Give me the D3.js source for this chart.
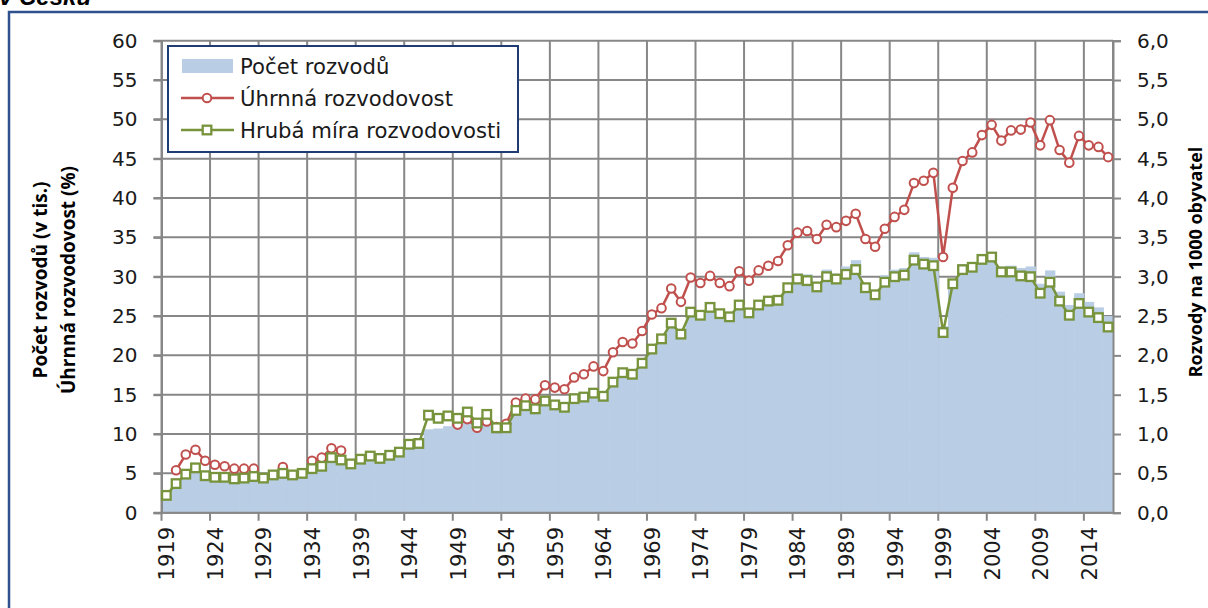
<!DOCTYPE html>
<html>
<head>
<meta charset="utf-8">
<script src="https://cdn.jsdelivr.net/npm/d3@7"></script>
<style>
  body { margin: 0; background: #fff; }
  svg { display: block; font-family: "DejaVu Sans", sans-serif; }
</style>
</head>
<body>
<div id="chart"></div>
<script>
// roky 1919-2016
const years = d3.range(1919, 2017);

// Počet rozvodů (v tis.)
const divorces = [
  2.3, 3.8, 5.0, 5.8, 4.7, 4.6, 4.6, 4.4, 4.5, 4.7,        // 1919-1928
  4.6, 4.9, 5.1, 4.9, 5.1, 5.8, 6.1, 7.2, 6.9, 6.3,        // 1929-1938
  6.9, 7.4, 7.1, 7.5, 7.9, 9.3, 9.5, 10.6, 10.7, 11.0,     // 1939-1948
  10.9, 11.4, 10.7, 11.3, 10.1, 10.2, 12.4, 13.0, 12.6, 13.7, // 1949-1958
  13.2, 12.9, 14.1, 14.3, 14.8, 14.5, 16.3, 17.5, 17.3, 18.7, // 1959-1968
  20.6, 21.9, 23.9, 22.5, 25.4, 25.0, 26.0, 25.2, 24.9, 26.4, // 1969-1978
  25.4, 26.5, 27.1, 27.2, 28.9, 30.4, 30.3, 29.3, 30.9, 30.4, // 1979-1988
  31.3, 32.1, 28.6, 28.3, 30.2, 30.9, 31.1, 33.1, 32.5, 32.4, // 1989-1998
  23.7, 29.7, 31.6, 31.8, 32.8, 33.1, 31.3, 31.4, 31.1, 31.3, // 1999-2008
  29.1, 30.8, 28.1, 26.4, 27.9, 26.8, 26.1, 25.0              // 2009-2016
];

// Úhrnná rozvodovost (%)
const totalRate = [
  null, 5.4, 7.4, 8.0, 6.6, 6.1, 5.9, 5.6, 5.6, 5.6,
  null, null, 5.8, null, null, 6.6, 7.0, 8.2, 7.9, null,
  null, null, null, null, null, null, null, null, null, null,
  11.2, 11.9, 10.8, 11.6, 10.9, 11.3, 14.0, 14.5, 14.4, 16.2,
  15.9, 15.7, 17.2, 17.6, 18.6, 18.0, 20.4, 21.7, 21.5, 23.1,
  25.2, 26.0, 28.5, 26.8, 29.9, 29.2, 30.1, 29.2, 28.8, 30.7,
  29.5, 30.8, 31.4, 32.0, 34.0, 35.6, 35.8, 34.8, 36.6, 36.3,
  37.1, 38.0, 34.8, 33.8, 36.1, 37.6, 38.5, 41.9, 42.2, 43.2,
  32.5, 41.3, 44.7, 45.8, 48.0, 49.3, 47.3, 48.6, 48.7, 49.6,
  46.7, 49.9, 46.1, 44.5, 47.9, 46.7, 46.5, 45.2
];

// Hrubá míra rozvodovosti (na 1000 obyvatel)
const crudeRate = [
  0.22, 0.37, 0.49, 0.57, 0.47, 0.45, 0.45, 0.43, 0.44, 0.46,
  0.44, 0.48, 0.50, 0.48, 0.50, 0.56, 0.59, 0.70, 0.67, 0.62,
  0.68, 0.72, 0.69, 0.73, 0.77, 0.87, 0.88, 1.24, 1.20, 1.23,
  1.20, 1.28, 1.14, 1.25, 1.08, 1.08, 1.30, 1.36, 1.32, 1.42,
  1.37, 1.34, 1.45, 1.47, 1.52, 1.48, 1.66, 1.78, 1.76, 1.90,
  2.08, 2.21, 2.41, 2.27, 2.55, 2.51, 2.61, 2.53, 2.49, 2.64,
  2.54, 2.64, 2.69, 2.70, 2.86, 2.97, 2.95, 2.87, 3.00, 2.97,
  3.03, 3.09, 2.86, 2.77, 2.93, 3.00, 3.02, 3.21, 3.16, 3.14,
  2.29, 2.91, 3.09, 3.12, 3.22, 3.25, 3.06, 3.06, 3.01, 3.00,
  2.79, 2.93, 2.69, 2.51, 2.66, 2.55, 2.48, 2.36
];

const leftTicks = d3.range(0, 61, 5);
const rightTicks = d3.range(0, 6.01, 0.5);
const yearLabels = years.filter(y => (y - 1919) % 5 === 0);

const seriesNames = ["Počet rozvodů", "Úhrnná rozvodovost", "Hrubá míra rozvodovosti"];

const width = 1208, height = 608;
const plot = { left: 161.5, right: 1113, top: 40.7, bottom: 512.7 };
const gridColor = "#878787";
const blue = "#b9cde5", red = "#c0504d", green = "#77933c";

const svg = d3.select("#chart").append("svg")
  .attr("width", width)
  .attr("height", height);

const x = d3.scaleBand().domain(years).range([plot.left, plot.right]).padding(0);
const y = d3.scaleLinear().domain([0, 60]).range([plot.bottom, plot.top]);
const y2 = d3.scaleLinear().domain([0, 6]).range([plot.bottom, plot.top]);
const comma = d3.formatLocale({ decimal: ",", thousands: " ", grouping: [3], currency: ["", ""] }).format(".1f");

// rámeček a nadpis
svg.append("rect")
  .attr("x", 9).attr("y", 12)
  .attr("width", 1300).attr("height", 700)
  .attr("fill", "none")
  .attr("stroke", "#2f528f")
  .attr("stroke-width", 2.5);

svg.append("text")
  .attr("x", -1).attr("y", 5)
  .attr("font-family", "Liberation Sans, Arial, sans-serif")
  .attr("font-weight", "bold")
  .attr("font-style", "italic")
  .attr("font-size", 24)
  .text("v Česku");

// mřížka
const grid = svg.append("g");
grid.selectAll("line.h")
  .data(leftTicks)
  .enter().append("line")
  .attr("x1", plot.left - 8).attr("x2", plot.right)
  .attr("y1", d => y(d)).attr("y2", d => y(d))
  .attr("stroke", gridColor).attr("stroke-width", 2);

grid.selectAll("line.v")
  .data(yearLabels.concat([2017]))
  .enter().append("line")
  .attr("x1", d => d === 2017 ? plot.right : x(d))
  .attr("x2", d => d === 2017 ? plot.right : x(d))
  .attr("y1", plot.top)
  .attr("y2", d => d === 2017 ? plot.bottom : plot.bottom + 8)
  .attr("stroke", gridColor).attr("stroke-width", 2);

// sloupce - počet rozvodů
svg.append("g").selectAll("rect")
  .data(years)
  .enter().append("rect")
  .attr("x", d => x(d))
  .attr("width", x.bandwidth() + 0.6)
  .attr("y", (d, i) => y(divorces[i]))
  .attr("height", (d, i) => plot.bottom - y(divorces[i]))
  .attr("fill", blue);

// osy
const leftAxis = svg.append("g")
  .attr("transform", `translate(${plot.left},0)`)
  .call(d3.axisLeft(y).tickValues(leftTicks).tickSize(8).tickPadding(16));
const rightAxis = svg.append("g")
  .attr("transform", `translate(${plot.right},0)`)
  .call(d3.axisRight(y2).tickValues(rightTicks).tickSize(8).tickPadding(16).tickFormat(comma));

[leftAxis, rightAxis].forEach(a => {
  a.select(".domain").attr("stroke", gridColor).attr("stroke-width", 2);
  a.selectAll(".tick line").attr("stroke", gridColor).attr("stroke-width", 2);
  a.selectAll(".tick text")
    .attr("font-family", "DejaVu Sans, sans-serif")
    .attr("font-size", 20)
    .attr("fill", "#1a1a1a");
});

svg.append("line")
  .attr("x1", plot.left).attr("x2", plot.right)
  .attr("y1", plot.bottom).attr("y2", plot.bottom)
  .attr("stroke", gridColor).attr("stroke-width", 2);

// popisky roků
svg.append("g").selectAll("text")
  .data(yearLabels)
  .enter().append("text")
  .attr("transform", d => `translate(${x(d) + x.bandwidth() / 2 + 1},527) rotate(-90)`)
  .attr("text-anchor", "end")
  .attr("dominant-baseline", "central")
  .attr("font-size", 21)
  .attr("fill", "#1a1a1a")
  .text(d => d);

// úhrnná rozvodovost
const cx = d => x(d) + x.bandwidth() / 2;
const redPts = years.map((yr, i) => ({ yr, v: totalRate[i] }));
svg.append("path")
  .datum(redPts)
  .attr("fill", "none")
  .attr("stroke", red)
  .attr("stroke-width", 2.5)
  .attr("d", d3.line().defined(d => d.v != null).x(d => cx(d.yr)).y(d => y(d.v)));
svg.append("g").selectAll("circle")
  .data(redPts.filter(d => d.v != null))
  .enter().append("circle")
  .attr("cx", d => cx(d.yr))
  .attr("cy", d => y(d.v))
  .attr("r", 4.3)
  .attr("fill", "#fff")
  .attr("stroke", red)
  .attr("stroke-width", 2);

// hrubá míra rozvodovosti (pravá osa)
const greenPts = years.map((yr, i) => ({ yr, v: crudeRate[i] }));
svg.append("path")
  .datum(greenPts)
  .attr("fill", "none")
  .attr("stroke", green)
  .attr("stroke-width", 2.5)
  .attr("d", d3.line().x(d => cx(d.yr)).y(d => y2(d.v)));
svg.append("g").selectAll("rect")
  .data(greenPts)
  .enter().append("rect")
  .attr("x", d => cx(d.yr) - 4.3)
  .attr("y", d => y2(d.v) - 4.3)
  .attr("width", 8.6).attr("height", 8.6)
  .attr("fill", "#fff")
  .attr("stroke", green)
  .attr("stroke-width", 2.3);

// názvy os
const titles = svg.append("g")
  .attr("font-family", "Open Sans, sans-serif")
  .attr("font-weight", "bold")
  .attr("text-anchor", "middle")
  .attr("fill", "#000");
titles.append("text")
  .attr("transform", "translate(40,280) rotate(-90)")
  .attr("dominant-baseline", "central")
  .attr("font-size", 19)
  .text("Počet rozvodů (v tis.)");
titles.append("text")
  .attr("transform", "translate(68,280) rotate(-90)")
  .attr("dominant-baseline", "central")
  .attr("font-size", 19)
  .text("Úhrnná rozvodovost (%)");
titles.append("text")
  .attr("transform", "translate(1195,262) rotate(-90)")
  .attr("dominant-baseline", "central")
  .attr("font-size", 18)
  .text("Rozvody na 1000 obyvatel");

// legenda
const legend = svg.append("g");
legend.append("rect")
  .attr("x", 168).attr("y", 46)
  .attr("width", 350).attr("height", 106)
  .attr("fill", "#fff")
  .attr("stroke", "#1f3b73")
  .attr("stroke-width", 2);

const rows = legend.selectAll("g.row")
  .data(seriesNames)
  .enter().append("g")
  .attr("transform", (d, i) => `translate(0,${66 + i * 32})`);

rows.append("text")
  .attr("x", 240)
  .attr("dominant-baseline", "central")
  .attr("font-size", 21.2)
  .attr("fill", "#1a1a1a")
  .text(d => d);

rows.filter((d, i) => i === 0).append("rect")
  .attr("x", 182).attr("y", -7)
  .attr("width", 51).attr("height", 14)
  .attr("fill", blue);

rows.filter((d, i) => i > 0).append("line")
  .attr("x1", 181).attr("x2", 234)
  .attr("stroke", (d, i) => i === 0 ? red : green)
  .attr("stroke-width", 2.5);

rows.filter((d, i) => i === 1).append("circle")
  .attr("cx", 207).attr("r", 4.3)
  .attr("fill", "#fff").attr("stroke", red).attr("stroke-width", 2);

rows.filter((d, i) => i === 2).append("rect")
  .attr("x", 207 - 4.3).attr("y", -4.3)
  .attr("width", 8.6).attr("height", 8.6)
  .attr("fill", "#fff").attr("stroke", green).attr("stroke-width", 2.3);
</script>
</body>
</html>
